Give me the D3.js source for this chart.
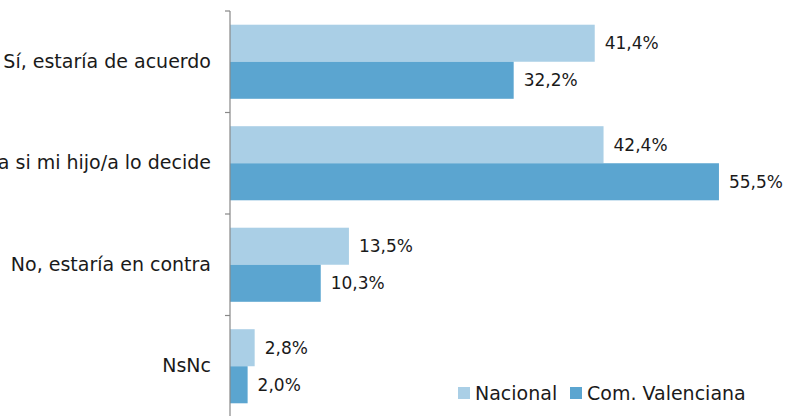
<!DOCTYPE html>
<html><head><meta charset="utf-8">
<script src="https://cdn.jsdelivr.net/npm/d3@7"></script>
<style>body{margin:0;background:#fff}svg{display:block}text{font-family:"DejaVu Sans",sans-serif;fill:#1a1a1a}</style>
</head><body><svg id="c" width="786" height="416"></svg>
<script>
const categories = ["Sí, estaría de acuerdo","Lo aceptaría si mi hijo/a lo decide","No, estaría en contra","NsNc"];
const seriesNames = ["Nacional","Com. Valenciana"];
const nacional = [41.4, 42.4, 13.5, 2.8];
const valenciana = [32.2, 55.5, 10.3, 2.0];
const colors = ["#aacfe6","#5ba5d0"];

const svg = d3.select("#c");
const x = d3.scaleLinear().domain([0,60]).range([230, 758.6]);
const y = d3.scaleBand().domain(categories).range([11, 417]).paddingInner(0).paddingOuter(0);
const ys = d3.scaleBand().domain(seriesNames).range([0, y.bandwidth()]).paddingInner(0).paddingOuter(0.37);
const fmt = v => d3.format(".1f")(v).replace(".", ",") + "%";
const data = categories.map((c,i)=>({cat:c, vals:[nacional[i], valenciana[i]]}));

const g = svg.selectAll("g.cat").data(data).join("g").attr("class","cat")
  .attr("transform", d=>`translate(0,${y(d.cat)})`);
g.selectAll("rect").data(d=>d.vals.map((v,j)=>({v, s:seriesNames[j], j}))).join("rect")
  .attr("x", x(0)).attr("y", d=>ys(d.s)).attr("width", d=>x(d.v)-x(0)).attr("height", ys.bandwidth())
  .attr("fill", d=>colors[d.j]);
g.selectAll("text.val").data(d=>d.vals.map((v,j)=>({v, s:seriesNames[j]}))).join("text").attr("class","val")
  .attr("x", d=>x(d.v)+10).attr("y", d=>ys(d.s)+ys.bandwidth()/2).attr("dy","0.36em")
  .attr("font-size", 17).text(d=>fmt(d.v));

// axis
const axis = d3.axisLeft(y).tickSize(0).tickPadding(19);
const ax = svg.append("g").attr("transform", `translate(${x(0)},0)`).call(axis);
ax.select(".domain").remove();
ax.selectAll("text").attr("font-size", 19).attr("fill","#1a1a1a").style("font-family",'"DejaVu Sans",sans-serif');
svg.append("line").attr("x1", x(0)).attr("x2", x(0)).attr("y1", 11).attr("y2", 420).attr("stroke","#888").attr("stroke-width",1.2);
const bounds = categories.map(c=>y(c)).concat([y(categories[categories.length-1])+y.bandwidth()]);
svg.selectAll("line.tk").data(bounds).join("line").attr("class","tk")
  .attr("x1", x(0)-5).attr("x2", x(0)).attr("y1", d=>d).attr("y2", d=>d).attr("stroke","#888").attr("stroke-width",1.2);

// legend
const lg = svg.append("g");
const legendX = [458, 570];
seriesNames.forEach((s,i)=>{
  lg.append("rect").attr("x", legendX[i]).attr("y", 387).attr("width", 12).attr("height", 12).attr("fill", colors[i]);
  lg.append("text").attr("x", legendX[i]+17).attr("y", 393).attr("dy","0.36em").attr("font-size",19).text(s);
});
</script></body></html>
